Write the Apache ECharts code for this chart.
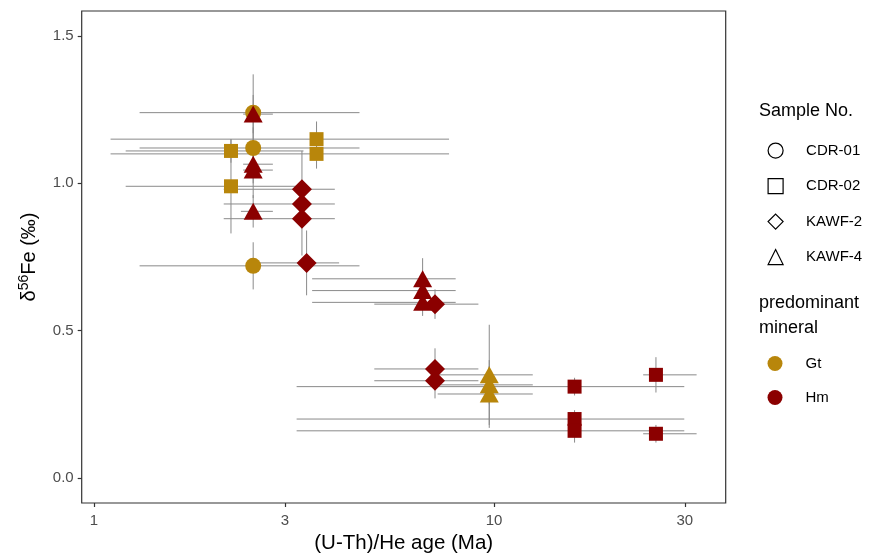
<!DOCTYPE html>
<html><head><meta charset="utf-8">
<script src="https://cdn.jsdelivr.net/npm/echarts@6/dist/echarts.min.js"></script>
<style>html,body{margin:0;padding:0;background:#fff}#c{width:885px;height:555px}</style>
</head><body><div id="c"></div>
<script>
const sampleNames = ['CDR-01', 'CDR-02', 'KAWF-2', 'KAWF-4'];
const mineralNames = ['Gt', 'Hm'];
const xTicks = [1, 3, 10, 30];
const yTicks = [0, 0.5, 1, 1.5];

const sample  = ['CDR-01','CDR-01','CDR-01',
                 'CDR-02','CDR-02','CDR-02','CDR-02','CDR-02','CDR-02','CDR-02','CDR-02','CDR-02',
                 'KAWF-2','KAWF-2','KAWF-2','KAWF-2','KAWF-2','KAWF-2','KAWF-2',
                 'KAWF-4','KAWF-4','KAWF-4','KAWF-4','KAWF-4','KAWF-4','KAWF-4','KAWF-4','KAWF-4','KAWF-4'];
const mineral = ['Gt','Gt','Gt',
                 'Gt','Gt','Gt','Gt','Hm','Hm','Hm','Hm','Hm',
                 'Hm','Hm','Hm','Hm','Hm','Hm','Hm',
                 'Hm','Hm','Hm','Hm','Hm','Hm','Hm','Gt','Gt','Gt'];
const age   = [2.50, 2.50, 2.50,
               2.20, 2.20, 3.60, 3.60, 15.9, 15.9, 15.9, 25.4, 25.4,
               3.31, 3.31, 3.31, 3.40, 7.12, 7.12, 7.12,
               2.50, 2.50, 2.50, 2.50, 6.63, 6.63, 6.63, 9.73, 9.73, 9.73];
const ageLo = [1.30, 1.30, 1.30,
               1.20, 1.20, 1.10, 1.10, 3.21, 3.21, 3.21, 23.6, 23.6,
               2.11, 2.11, 2.11, 2.60, 5.02, 5.02, 5.02,
               2.36, 2.36, 2.36, 2.33, 3.51, 3.51, 3.51, 7.23, 7.23, 7.23];
const ageHi = [4.61, 4.61, 4.61,
               3.34, 3.20, 7.72, 7.72, 29.9, 29.9, 29.9, 32.1, 32.1,
               4.00, 4.00, 4.00, 4.10, 9.14, 9.14, 9.14,
               2.80, 2.80, 2.80, 2.80, 8.02, 8.02, 8.02, 12.5, 12.5, 12.5];
const fe    = [1.24, 1.12, 0.72,
               1.11, 0.99, 1.15, 1.10, 0.31, 0.20, 0.16, 0.35, 0.15,
               0.98, 0.93, 0.88, 0.73, 0.59, 0.37, 0.33,
               1.235, 1.065, 1.045, 0.905, 0.676, 0.636, 0.596, 0.35, 0.316, 0.285];
const feLo  = [1.11, 1.05, 0.64,
               1.07, 0.83, 1.09, 1.05, 0.28, 0.17, 0.12, 0.29, 0.12,
               0.85, 0.85, 0.755, 0.62, 0.54, 0.31, 0.27,
               1.17, 1.00, 0.95, 0.85, 0.61, 0.58, 0.55, 0.18, 0.25, 0.17];
const feHi  = [1.37, 1.19, 0.80,
               1.15, 1.15, 1.21, 1.15, 0.34, 0.23, 0.20, 0.41, 0.18,
               1.11, 1.01, 1.005, 0.84, 0.64, 0.44, 0.39,
               1.30, 1.13, 1.14, 0.96, 0.746, 0.69, 0.65, 0.52, 0.38, 0.40];

const mineralColor = {Gt: '#B8860B', Hm: '#8B0000'};
const sampleSymbol = {'CDR-01': 'circle', 'CDR-02': 'rect', 'KAWF-2': 'diamond', 'KAWF-4': 'triangle'};
const sampleSize = {'CDR-01': 16, 'CDR-02': 14, 'KAWF-2': 20, 'KAWF-4': [19, 17]};

const errRows = age.map((a, i) => [a, ageLo[i], ageHi[i], fe[i], feLo[i], feHi[i]]);

const series = [{
  type: 'custom', name: 'errors', z: 1, silent: true,
  encode: {x: [0, 1, 2], y: [3, 4, 5]},
  data: errRows,
  renderItem: function (params, api) {
    const c = api.coord([api.value(0), api.value(3)]);
    const l = api.coord([api.value(1), api.value(3)]);
    const r = api.coord([api.value(2), api.value(3)]);
    const b = api.coord([api.value(0), api.value(4)]);
    const t = api.coord([api.value(0), api.value(5)]);
    const st = {stroke: '#8a8a8a', lineWidth: 1};
    return {type: 'group', children: [
      {type: 'line', shape: {x1: l[0], y1: c[1], x2: r[0], y2: c[1]}, style: st},
      {type: 'line', shape: {x1: c[0], y1: b[1], x2: c[0], y2: t[1]}, style: st}
    ]};
  }
}];

sampleNames.forEach(function (s) {
  const d = [];
  age.forEach(function (a, i) {
    if (sample[i] === s) d.push({value: [a, fe[i]], itemStyle: {color: mineralColor[mineral[i]]}});
  });
  series.push({type: 'scatter', name: s, z: 3, symbol: sampleSymbol[s], symbolSize: sampleSize[s],
    itemStyle: {color: '#000', opacity: 1}, data: d});
});
mineralNames.forEach(function (m) {
  series.push({type: 'scatter', name: m, symbol: 'circle', itemStyle: {color: mineralColor[m], opacity: 1}, data: []});
});

const chart = echarts.init(document.getElementById('c'), null, {renderer: 'canvas'});
const font = '"Liberation Sans", Arial, sans-serif';
chart.setOption({
  animation: false,
  textStyle: {fontFamily: font},
  title: [
    {text: 'Sample No.', left: 754, top: 97, textStyle: {fontSize: 18, fontWeight: 'normal', color: '#000', fontFamily: font}},
    {text: 'predominant\nmineral', left: 754, top: 286, textStyle: {fontSize: 18, fontWeight: 'normal', color: '#000', lineHeight: 25, fontFamily: font}}
  ],
  legend: [
    {orient: 'vertical', left: 767.5, top: 142.5, padding: 0, itemWidth: 15, itemHeight: 15, itemGap: 19.3,
     textStyle: {fontSize: 15, color: '#000', padding: [0, 0, 0, 18], fontFamily: font},
     data: sampleNames.map(function (s) {
       return {name: s, icon: sampleSymbol[s], itemStyle: {color: 'rgba(0,0,0,0)', borderColor: '#000', borderWidth: 1.2}};
     })},
    {orient: 'vertical', left: 767.5, top: 356, padding: 0, itemWidth: 15, itemHeight: 15, itemGap: 19,
     textStyle: {fontSize: 15, color: '#000', padding: [0, 0, 0, 18], fontFamily: font},
     data: mineralNames.map(function (m) { return {name: m, icon: 'circle', itemStyle: {opacity: 1}}; })}
  ],
  grid: {left: 81.7, right: 885 - 725.7, top: 11, bottom: 555 - 503, outerBoundsMode: 'none', containLabel: false,
         show: true, borderColor: '#333', borderWidth: 1.2, backgroundColor: '#fff'},
  xAxis: {
    type: 'log', logBase: 10, min: 0.9316, max: 37.95,
    name: '(U-Th)/He age (Ma)', nameLocation: 'middle', nameGap: 30,
    nameTextStyle: {fontSize: 20.5, color: '#000', fontFamily: font},
    axisLine: {show: false, onZero: false},
    axisTick: {show: true, length: 4, lineStyle: {color: '#333', width: 1.2}, customValues: xTicks},
    axisLabel: {customValues: xTicks, margin: 10, fontSize: 15, color: '#4d4d4d', fontFamily: font,
      formatter: function (v) { return String(Math.round(v)); }},
    splitLine: {show: false}, minorSplitLine: {show: false}
  },
  yAxis: {
    type: 'value', min: -0.085, max: 1.585,
    name: '{a|δ}{s|56}{a|Fe (‰)}', nameLocation: 'middle', nameGap: 42, nameRotate: 90,
    nameTextStyle: {rich: {
      a: {fontSize: 20, color: '#000', fontFamily: font, verticalAlign: 'bottom'},
      s: {fontSize: 14, color: '#000', fontFamily: font, verticalAlign: 'bottom', padding: [0, 0, 9, 0]}}},
    axisLine: {show: false, onZero: false},
    axisTick: {show: true, length: 4, lineStyle: {color: '#333', width: 1.2}, customValues: yTicks},
    axisLabel: {customValues: yTicks, margin: 8, fontSize: 15, color: '#4d4d4d', fontFamily: font,
      formatter: function (v) { return Number(v).toFixed(1); }},
    splitLine: {show: false}
  },
  series: series
});
</script></body></html>
